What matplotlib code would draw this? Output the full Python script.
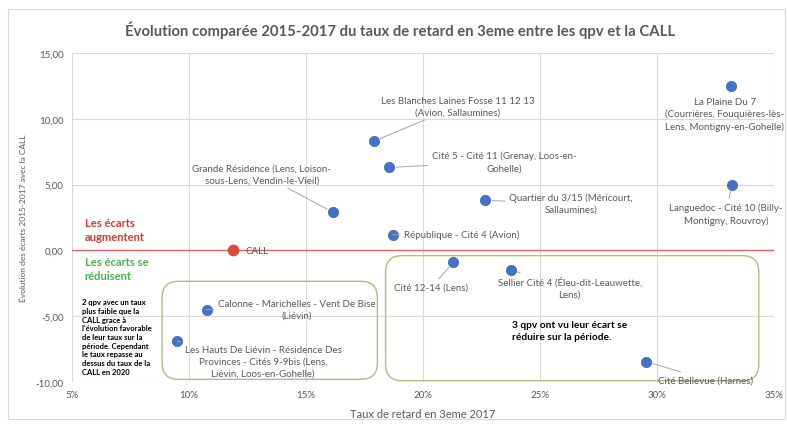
import matplotlib
matplotlib.use('Agg')
import matplotlib.pyplot as plt
from matplotlib.patches import FancyBboxPatch, Rectangle
from matplotlib.ticker import FuncFormatter

plt.rcParams['font.family'] = ['Lato', 'DejaVu Sans']

# data: taux de retard 2017 (%) et evolution des ecarts 2015-2017
names = ['Les Blanches Laines Fosse 11 12 13\n(Avion, Sallaumines)',
         'Cité 5 - Cité 11 (Grenay, Loos-en-\nGohelle)',
         'Grande Résidence (Lens, Loison-\nsous-Lens, Vendin-le-Vieil)',
         'Quartier du 3/15 (Méricourt,\nSallaumines)',
         'République - Cité 4 (Avion)',
         'La Plaine Du 7\n(Courrières, Fouquières-lès-\nLens, Montigny-en-Gohelle)',
         'Languedoc - Cité 10 (Billy-\nMontigny, Rouvroy)',
         'Cité 12-14 (Lens)',
         'Sellier Cité 4 (Éleu-dit-Leauwette,\nLens)',
         'Cité Bellevue (Harnes)',
         'Calonne - Marichelles - Vent De Bise\n(Liévin)',
         'Les Hauts De Liévin - Résidence Des\nProvinces - Cités 9-9bis (Lens,\nLiévin, Loos-en-Gohelle)']
taux_2017 = [17.9, 18.55, 16.15, 22.65, 18.7, 33.15, 33.2, 21.3, 23.75, 29.55, 10.75, 9.5]
evol_ecart = [8.3, 6.3, 2.9, 3.8, 1.2, 12.5, 5.0, -0.9, -1.5, -8.45, -4.5, -6.9]
call_x, call_y = 11.9, 0.0

# label placement (offset in pixels from point, alignment)
lab_off = [(84, 35, 'center'), (115, 6, 'center'), (-71, 38, 'center'), (86, -3, 'center'),
           (11, 0, 'left'), (-6, -28, 'center'), (-6, -29, 'center'), (-22, -25, 'center'),
           (59, -17, 'center'), (12, -18, 'left'), (11, 0, 'left'), (86, -20, 'center')]

grey = '#595959'
blue = '#4472C4'

fig = plt.figure(figsize=(7.87, 4.27), dpi=100)
fig.patches.append(Rectangle((8 / 787, 7 / 427), 777 / 787, 410 / 427, transform=fig.transFigure,
                             fill=False, edgecolor='#D9D9D9', lw=0.8))
ax = fig.add_axes([72 / 787, 1 - 383 / 427, 702 / 787, 329 / 427])

ax.set_xlim(5, 35)
ax.set_ylim(-10, 15)
ax.set_xticks(range(5, 36, 5))
ax.set_yticks(range(-10, 16, 5))
ax.xaxis.set_major_formatter(FuncFormatter(lambda v, p: '%d%%' % v))
ax.yaxis.set_major_formatter(FuncFormatter(lambda v, p: ('%.2f' % v).replace('.', ',')))
ax.grid(True, color='#D9D9D9', lw=0.8)
ax.set_axisbelow(True)
for s in ax.spines.values():
    s.set_visible(False)
ax.tick_params(length=0, labelsize=7, labelcolor=grey, pad=6)

ax.axhline(0, color='#E06666', lw=1.0, zorder=1)

ax.scatter(taux_2017, evol_ecart, s=55, color=blue, edgecolor='#3A64B0', lw=0.5, zorder=4)
ax.scatter([call_x], [call_y], s=55, color='#E0483E', zorder=4)
ax.annotate('CALL', (call_x, call_y), xytext=(12, 0), textcoords='offset pixels',
            ha='left', va='center', fontsize=7, color=grey)

for name, x, y, (dx, dy, ha) in zip(names, taux_2017, evol_ecart, lab_off):
    ax.annotate(name, (x, y), xytext=(dx, dy), textcoords='offset pixels',
                ha=ha, va='center', multialignment='center', fontsize=7, color=grey,
                linespacing=1.4, zorder=5,
                arrowprops=dict(arrowstyle='-', color='#A6A6A6', lw=0.7, shrinkA=1, shrinkB=5))

# rounded boxes
asp = 23.4 / 13.14
for x0, y0, x1, y1 in [(8.85, -9.8, 18.05, -2.35), (18.4, -9.9, 34.35, -0.4)]:
    ax.add_patch(FancyBboxPatch((x0, y0), x1 - x0, y1 - y0,
                                boxstyle='round,pad=0,rounding_size=0.7', mutation_aspect=asp,
                                fill=False, edgecolor='#A9C27A', lw=1.0, zorder=3))

ax.text(5.55, 1.6, 'Les écarts\naugmentent', color='#D9382F', fontsize=8, fontweight='bold',
        ha='left', va='center', linespacing=1.35)
ax.text(5.55, -1.35, 'Les écarts se\nréduisent', color='#4CAF50', fontsize=8, fontweight='bold',
        ha='left', va='center', linespacing=1.35)
ax.text(5.43, -6.55, "2 qpv avec un taux\nplus faible que la\nCALL grace à\nl'évolution favorable\n"
        "de leur taux sur la\npériode. Cependant\nle taux repasse au\ndessus du taux de la\nCALL en 2020",
        color='black', fontsize=5.5, fontweight='bold', ha='left', va='center', linespacing=1.28)
ax.text(23.8, -6.09, '3 qpv ont vu leur écart se\nréduire sur la période.', color='black',
        fontsize=7.3, fontweight='bold', ha='left', va='center', linespacing=1.35)

fig.text(400 / 787, 1 - 30 / 427,
         'Évolution comparée 2015-2017 du taux de retard en 3eme entre les qpv et la CALL',
         fontsize=10.7, fontweight='bold', color=grey, ha='center', va='center')
ax.set_xlabel('Taux de retard en 3eme 2017', fontsize=8, color=grey, labelpad=6)
ax.set_ylabel('Évolution des écarts 2015-2017 avec la CALL', fontsize=6, color=grey, labelpad=6)

fig.savefig('out.png', dpi=100)
